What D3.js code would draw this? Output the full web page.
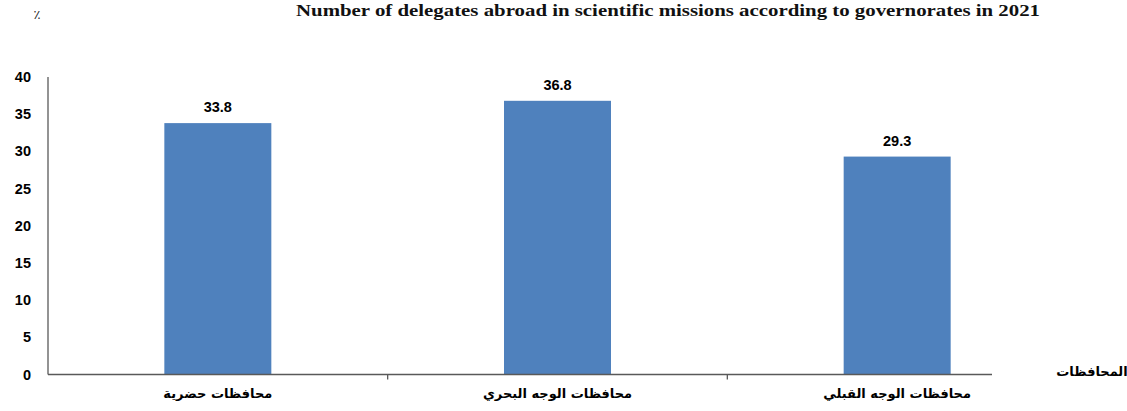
<!DOCTYPE html>
<html><head><meta charset="utf-8">
<script src="https://cdn.jsdelivr.net/npm/d3@7"></script>
<style>body{margin:0;background:#fff}svg{display:block}</style>
</head><body>
<svg id="c" width="1127" height="411"></svg>
<script>
const categories = ["محافظات حضرية", "محافظات الوجه البحري", "محافظات الوجه القبلي"];
const values = [33.8, 36.8, 29.3];
const yTicks = [0, 5, 10, 15, 20, 25, 30, 35, 40];
const titleText = "Number of delegates abroad in scientific missions according to  governorates in 2021";
const xAxisTitle = "المحافظات";

const svg = d3.select("#c");
const x = d3.scaleBand().domain(categories).range([48, 1067]).paddingInner(0.685).paddingOuter(0.3425);
const y = d3.scaleLinear().domain([0, 40]).range([374.5, 77]);

svg.append("text").attr("x", 668).attr("y", 16).attr("text-anchor", "middle")
  .attr("font-family", "Liberation Serif").attr("font-weight", "bold").attr("font-size", 16)
  .attr("textLength", 744).attr("lengthAdjust", "spacingAndGlyphs")
  .attr("fill", "#111").text(titleText);
svg.append("text").attr("x", 37).attr("y", 19).attr("text-anchor", "middle")
  .attr("font-family", "DejaVu Sans").attr("font-size", 13).attr("fill", "#222").text("٪");

// bars
svg.selectAll("rect.bar").data(values).enter().append("rect")
  .attr("x", (d, i) => x(categories[i])).attr("width", x.bandwidth())
  .attr("y", d => y(d)).attr("height", d => y(0) - y(d)).attr("fill", "#4F81BD");

// value labels
svg.selectAll("text.val").data(values).enter().append("text")
  .attr("x", (d, i) => x(categories[i]) + x.bandwidth() / 2).attr("y", d => y(d) - 11)
  .attr("text-anchor", "middle").attr("font-family", "Liberation Sans").attr("font-weight", "bold")
  .attr("font-size", 14.5).attr("fill", "#000").text(d => d.toFixed(1));

// y axis
svg.append("line").attr("x1", 48).attr("x2", 48).attr("y1", y(40)).attr("y2", y(0))
  .attr("stroke", "#595959").attr("stroke-width", 1.3);
svg.selectAll("text.yt").data(yTicks).enter().append("text")
  .attr("x", 31).attr("y", d => y(d) + 5).attr("text-anchor", "end")
  .attr("font-family", "Liberation Sans").attr("font-weight", "bold").attr("font-size", 14.5)
  .attr("fill", "#000").text(d => d);

// x axis
svg.append("line").attr("x1", 48).attr("x2", 992).attr("y1", y(0)).attr("y2", y(0))
  .attr("stroke", "#595959").attr("stroke-width", 1.3);
const step = x.step();
[1, 2].forEach(k => {
  const xx = 48 + step * k;
  svg.append("line").attr("x1", xx).attr("x2", xx).attr("y1", y(0)).attr("y2", y(0) + 5)
    .attr("stroke", "#595959").attr("stroke-width", 1.3);
});
svg.selectAll("text.cat").data(categories).enter().append("text")
  .attr("x", d => x(d) + x.bandwidth() / 2).attr("y", 398).attr("text-anchor", "middle")
  .attr("direction", "rtl")
  .attr("font-family", "DejaVu Sans").attr("font-weight", "bold").attr("font-size", 13)
  .attr("fill", "#000").text(d => d);
svg.append("text").attr("x", 1092).attr("y", 376).attr("text-anchor", "middle")
  .attr("font-family", "DejaVu Sans").attr("font-weight", "bold").attr("font-size", 13)
  .attr("fill", "#000").text(xAxisTitle);
</script>
</body></html>
